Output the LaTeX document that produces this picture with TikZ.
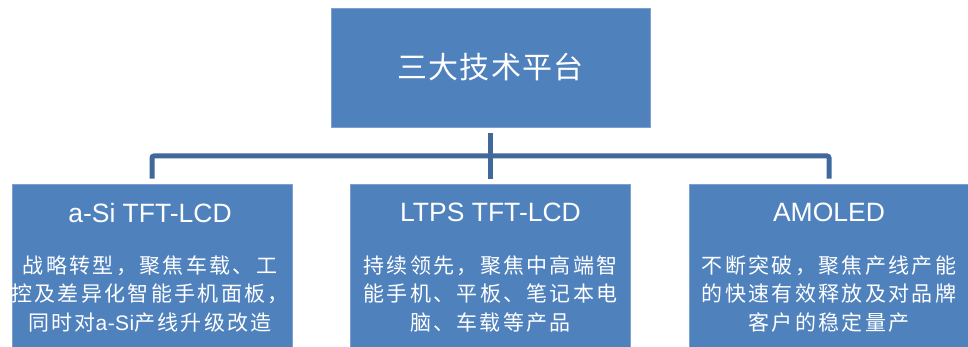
\documentclass[tikz,border=0pt]{standalone}
\usepackage{fontspec}
\setmainfont{Liberation Sans}
\newfontfamily\cjk[LetterSpace=11]{Noto Sans CJK SC}
\newfontfamily\cjktitle[LetterSpace=4]{Noto Sans CJK SC}
\newfontfamily\latinsans[LetterSpace=2]{Liberation Sans}
\definecolor{boxblue}{RGB}{79,129,189}
\definecolor{boxedge}{RGB}{125,160,208}
\definecolor{linkblue}{RGB}{64,104,154}
\begin{document}
\begin{tikzpicture}[x=1pt,y=-1pt,
  panel/.style={fill=boxblue, draw=boxedge, line width=0.8pt, inner sep=0pt, minimum width=280pt},
  head/.style={text=white, font=\fontsize{26.5}{30}\selectfont, inner sep=0pt},
  body/.style={text=white, font=\cjk\fontsize{21}{28.5}\selectfont, align=center, inner sep=0pt},
  link/.style={draw=linkblue, line width=5pt, rounded corners=2pt}]
\clip (0,0) rectangle (968,347);
\fill[white] (0,0) rectangle (968,347);
% boxes
\node[panel, minimum width=319pt, minimum height=119pt] (top) at (490.5,67.5) {};
\node[text=white, font=\cjktitle\fontsize{30}{36}\selectfont, inner sep=0pt] (title) at (490.5,67) {三大技术平台};
\node[panel, minimum height=180pt] (left) at (152,274) {};
\node[panel, minimum height=180pt] (mid) at (490.5,274.5) {};
\node[panel, minimum height=180pt] (right) at (829,274) {};
% headings
\node[head] (lefth) at (150,213.5) {a-Si TFT-LCD};
\node[head] (midh) at (490.5,212) {LTPS TFT-LCD};
\node[head] (righth) at (829,212.5) {AMOLED};
% bodies
\node[body] (leftb) at (150,294) {战略转型，聚焦车载、工\\控及差异化智能手机面板，\\同时对{\latinsans a-Si}产线升级改造};
\node[body] (midb) at (490.5,294) {持续领先，聚焦中高端智\\能手机、平板、笔记本电\\脑、车载等产品};
\node[body] (rightb) at (829,294) {不断突破，聚焦产线产能\\的快速有效释放及对品牌\\客户的稳定量产};
% connectors
\coordinate (bus) at (490.5,156);
\draw[link, shorten <=6pt, shorten >=5.5pt] (top) -- (mid);
\draw[link, shorten >=5pt] (bus) -| (left.north);
\draw[link, shorten >=5pt] (bus) -| (right.north);
\end{tikzpicture}
\end{document}
